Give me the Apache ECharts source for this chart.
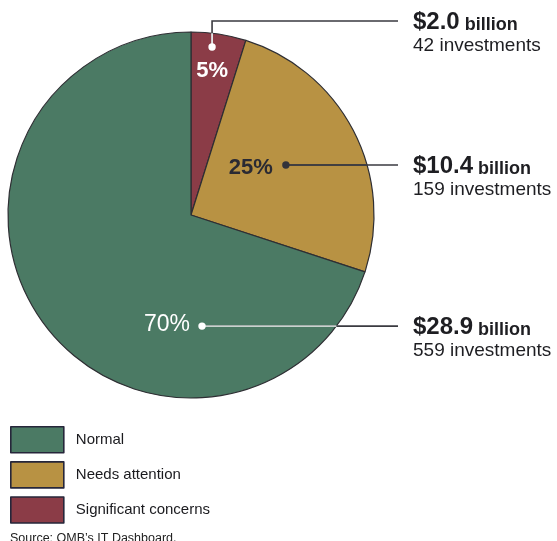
<!DOCTYPE html>
<html>
<head>
<meta charset="utf-8">
<script src="https://cdn.jsdelivr.net/npm/echarts@6/dist/echarts.min.js"></script>
<style>
html,body{margin:0;padding:0;background:#ffffff;}
#chart{width:557px;height:541px;}
</style>
</head>
<body>
<div id="chart"></div>
<script>
// ---- data ----
const categories = ['Significant concerns', 'Needs attention', 'Normal'];
const billions = [2.0, 10.4, 28.9];
const investments = [42, 159, 559];
const legendOrder = ['Normal', 'Needs attention', 'Significant concerns'];
const sourceNote = 'Source: OMB\u2019s IT Dashboard.';

// ---- styling / layout ----
const FONT = '"Liberation Sans", Arial, Helvetica, sans-serif';
const COLORS = ['#8b3c47', '#b89243', '#4b7a64'];
const CX = 191, CY = 215, R = 183;
const LINE_END = 398, TEXT_X = 413;
const ANNOT = [
  {t: 0.41, rf: 0.925, lblDx: 0, lblDy: 24, align: 'center', pctSize: 22, pctWeight: 'bold', pctColor: '#ffffff', dotColor: '#ffffff', innerColor: '#ffffff', rise: 11},
  {t: 0.494, rf: 0.586, lblDx: -13, lblDy: 3, align: 'right', pctSize: 22, pctWeight: 'bold', pctColor: '#2a2a33', dotColor: '#33333a', innerColor: '#3a3a40'},
  {t: 0.263, rf: 0.61, lblDx: -12, lblDy: -1, align: 'right', pctSize: 23, pctWeight: 'normal', pctColor: '#ffffff', dotColor: '#ffffff', innerColor: '#c9d3ce'}
];

const total = billions.reduce((a, b) => a + b, 0);
const starts = [];
let acc = 0;
billions.forEach(v => { starts.push(acc / total); acc += v; });

function anchor(i) {
  const frac = starts[i] + ANNOT[i].t * billions[i] / total;
  const th = 2 * Math.PI * frac;
  const r = R * ANNOT[i].rf;
  return {x: CX + r * Math.sin(th), y: CY - r * Math.cos(th)};
}

const ctx = document.createElement('canvas').getContext('2d');
function measure(text, font) { ctx.font = font; return ctx.measureText(text).width; }

const graphics = [];
categories.forEach((c, i) => {
  const a = ANNOT[i];
  const d = anchor(i);
  const lineY = i === 0 ? CY - R - a.rise : d.y;
  const pts = i === 0 ? [[d.x, d.y], [d.x, lineY], [LINE_END, lineY]] : [[d.x, d.y], [LINE_END, lineY]];
  graphics.push({type: 'polyline', z: 100, shape: {points: pts}, style: {stroke: '#3a3a40', lineWidth: 1.6, fill: null}});
  let edge;
  if (i === 0) edge = [d.x, CY - Math.sqrt(R * R - (d.x - CX) * (d.x - CX))];
  else edge = [CX + Math.sqrt(R * R - (lineY - CY) * (lineY - CY)), lineY];
  graphics.push({type: 'polyline', z: 101, shape: {points: [[d.x, d.y], edge]}, style: {stroke: a.innerColor, lineWidth: 1.6, fill: null}});
  graphics.push({type: 'circle', z: 102, shape: {cx: d.x, cy: d.y, r: 3.7}, style: {fill: a.dotColor}});
  const amt = '$' + billions[i].toFixed(1);
  const f1 = 'bold 24px ' + FONT;
  const w = measure(amt, f1);
  const ty = lineY + 1.5;
  graphics.push({type: 'text', z: 100, style: {text: amt, x: TEXT_X, y: ty, font: f1, fill: '#1e1e22', verticalAlign: 'middle', align: 'left'}});
  graphics.push({type: 'text', z: 100, style: {text: 'billion', x: TEXT_X + w + 5, y: ty + 2.1, font: 'bold 18px ' + FONT, fill: '#1e1e22', verticalAlign: 'middle', align: 'left'}});
  graphics.push({type: 'text', z: 100, style: {text: investments[i] + ' investments', x: TEXT_X, y: ty + 23, font: '19px ' + FONT, fill: '#1e1e22', verticalAlign: 'middle', align: 'left'}});
});

const chart = echarts.init(document.getElementById('chart'), null, {renderer: 'canvas'});
chart.setOption({
  backgroundColor: '#ffffff',
  animation: false,
  title: {text: sourceNote, left: 10, top: 532, padding: 0, textStyle: {fontFamily: FONT, fontSize: 12.5, fontWeight: 'normal', color: '#222'}},
  legend: {
    data: legendOrder, orient: 'vertical', left: 10, top: 426, padding: 0,
    itemWidth: 53, itemHeight: 26, itemGap: 7.5, icon: 'rect',
    itemStyle: {borderColor: '#26263a', borderWidth: 1.6},
    textStyle: {fontFamily: FONT, fontSize: 15, color: '#1a1a1e', padding: [0, 0, 0, 7]},
    selectedMode: false
  },
  graphic: graphics,
  series: [{
    type: 'pie', center: [CX, CY], radius: R, startAngle: 90, clockwise: true,
    silent: true,
    itemStyle: {borderColor: '#2e2e33', borderWidth: 1.2},
    label: {show: true, position: 'inside', formatter: p => Math.round(p.percent) + '%', fontFamily: FONT},
    labelLine: {show: false},
    labelLayout: function (p) {
      const a = ANNOT[p.dataIndex];
      const d = anchor(p.dataIndex);
      return {x: d.x + a.lblDx, y: d.y + a.lblDy, align: a.align, verticalAlign: 'middle'};
    },
    data: categories.map((c, i) => ({
      name: c, value: billions[i],
      itemStyle: {color: COLORS[i]},
      label: {color: ANNOT[i].pctColor, fontSize: ANNOT[i].pctSize, fontWeight: ANNOT[i].pctWeight}
    }))
  }]
});
</script>
</body>
</html>
